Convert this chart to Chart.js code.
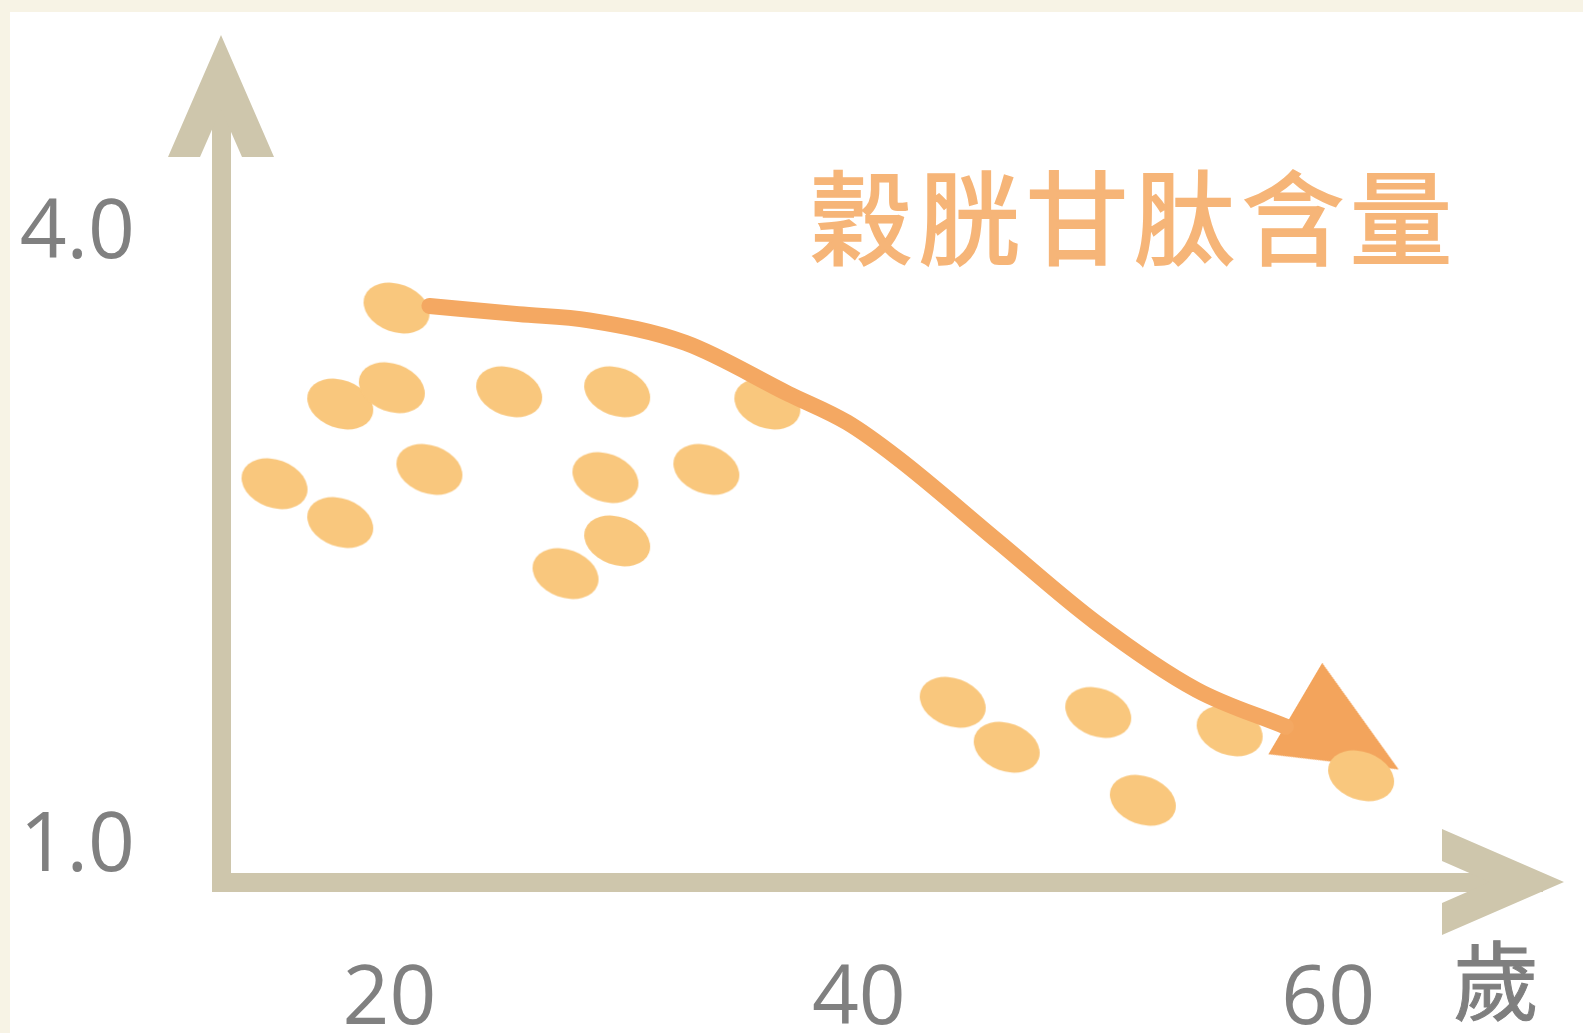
<!DOCTYPE html>
<html>
<head>
<meta charset="utf-8">
<script src="https://cdn.jsdelivr.net/npm/chart.js@4/dist/chart.umd.min.js"></script>
<style>
  html, body { margin: 0; padding: 0; overflow: hidden; }
  body { width: 1583px; height: 1033px; background: #F7F3E5; position: relative; }
  .panel { position: absolute; left: 10px; top: 12px; width: 1573px; height: 1021px; background: #fff; }
  #chart { position: absolute; left: 0; top: 0; }
  .title {
    position: absolute; left: 810px; top: 162px; line-height: 1;
    font-family: "Noto Sans CJK TC", "Noto Sans CJK SC", sans-serif;
    font-size: 102px; letter-spacing: 6px; color: #F6B578; white-space: nowrap;
    -webkit-text-stroke: 2px #F6B578;
  }
  .unit {
    position: absolute; left: 1453px; top: 934px; line-height: 1;
    font-family: "Noto Sans CJK TC", "Noto Sans CJK SC", sans-serif;
    font-size: 86px; color: #7F7F7F;
    -webkit-text-stroke: 1px #7F7F7F;
  }
</style>
</head>
<body>
<div class="panel"></div>
<canvas id="chart" width="1583" height="1033"></canvas>
<div class="title">穀胱甘肽含量</div>
<div class="unit">歲</div>

<script>
// ---- data (age in years, glutathione level) ----
const AGES = [20.3, 17.9, 20.1, 25.1, 29.7, 36.1, 15.1, 17.9, 21.7, 29.2, 33.5, 29.7, 27.5,
              44.0, 46.3, 50.2, 52.1, 55.8, 61.4];
const LEVELS = [3.61, 3.14, 3.22, 3.20, 3.20, 3.14, 2.75, 2.56, 2.82, 2.78, 2.82, 2.47, 2.31,
                1.68, 1.46, 1.63, 1.20, 1.54, 1.32];

// trend curve
const TREND_AGES = [21.7, 25.5, 28.5, 32.6, 37.0, 39.5, 41.6, 45.9, 50.1, 54.4, 58.2];
const TREND_LEVELS = [3.62, 3.58, 3.55, 3.44, 3.19, 3.05, 2.88, 2.47, 2.07, 1.74, 1.56];
const ARROW_AT = [60.8, 1.50];

const X_TICKS = [20, 40, 60];
const Y_TICKS = [1.0, 4.0];

const AXIS_COLOR = '#CEC6AC';
const DOT_COLOR = '#F9C77D';
const TREND_COLOR = '#F4A862';
const LABEL_COLOR = '#808080';

/* ---- point sprites ---- */
function makeDot() {
  const c = document.createElement('canvas');
  c.width = 80; c.height = 66;
  const g = c.getContext('2d');
  g.fillStyle = DOT_COLOR;
  g.beginPath();
  g.ellipse(40, 33, 34, 24, 0.35, 0, Math.PI * 2);
  g.fill();
  return c;
}

function makeArrowHead() {
  // points to the right, centred; rotated by the dataset
  const c = document.createElement('canvas');
  c.width = 130; c.height = 130;
  const g = c.getContext('2d');
  g.fillStyle = '#F3A45C';
  g.beginPath();
  g.moveTo(125, 65);
  g.lineTo(5, 12);
  g.lineTo(5, 118);
  g.closePath();
  g.fill();
  return c;
}

/* ---- axis arrowheads ---- */
const axisArrows = {
  id: 'axisArrows',
  beforeDatasetsDraw(chart) {
    const { ctx, chartArea: a } = chart;
    ctx.save();
    ctx.fillStyle = AXIS_COLOR;
    // y axis (tip above the shaft)
    const tx = a.left, ty = a.top - 32;
    ctx.beginPath();
    ctx.moveTo(tx, ty);
    ctx.lineTo(tx + 53, ty + 122);
    ctx.lineTo(tx + 21, ty + 122);
    ctx.lineTo(tx, ty + 74);
    ctx.lineTo(tx - 21, ty + 122);
    ctx.lineTo(tx - 53, ty + 122);
    ctx.closePath();
    ctx.fill();
    // x axis
    const rx = a.right + 22, ry = a.bottom;
    ctx.beginPath();
    ctx.moveTo(rx, ry);
    ctx.lineTo(rx - 122, ry - 53);
    ctx.lineTo(rx - 122, ry - 21);
    ctx.lineTo(rx - 74, ry);
    ctx.lineTo(rx - 122, ry + 21);
    ctx.lineTo(rx - 122, ry + 53);
    ctx.closePath();
    ctx.fill();
    ctx.restore();
  },
};

function noPad(s) {
  s.paddingTop = 0; s.paddingBottom = 0; s.paddingLeft = 0; s.paddingRight = 0;
}

const dot = makeDot();
const head = makeArrowHead();

new Chart(document.getElementById('chart'), {
  type: 'scatter',
  data: {
    datasets: [
      {
        type: 'line',
        data: TREND_AGES.map((x, i) => ({ x, y: TREND_LEVELS[i] })),
        borderColor: TREND_COLOR,
        borderWidth: 16,
        borderCapStyle: 'round',
        cubicInterpolationMode: 'monotone',
        pointRadius: 0,
        order: 1,
      },
      {
        data: AGES.map((x, i) => ({ x, y: LEVELS[i] })),
        pointStyle: dot,
        pointRadius: 30,
        order: 2,
      },
      {
        data: [{ x: ARROW_AT[0], y: ARROW_AT[1] }],
        pointStyle: head,
        pointRadius: 40,
        rotation: 30.5,
        order: 3,
      },
    ],
  },
  options: {
    responsive: false,
    animation: false,
    events: [],
    layout: { padding: { top: 67, right: 35, left: 0, bottom: 0 } },
    plugins: { legend: { display: false }, tooltip: { enabled: false } },
    scales: {
      x: {
        type: 'linear',
        min: 12.82,
        max: 69.11,
        afterFit: (s) => { s.height = 151; noPad(s); },
        afterBuildTicks: (s) => { s.ticks = X_TICKS.map((v) => ({ value: v })); },
        grid: { display: true, color: 'rgba(0,0,0,0)', drawTicks: false },
        border: { display: true, color: AXIS_COLOR, width: 19 },
        ticks: {
          padding: 69,
          color: LABEL_COLOR,
          font: { family: 'Open Sans', size: 82 },
          maxRotation: 0,
          callback: (v) => String(v),
        },
      },
      y: {
        type: 'linear',
        min: 0.8,
        max: 4.79,
        afterFit: (s) => { s.width = 221; noPad(s); },
        afterBuildTicks: (s) => { s.ticks = Y_TICKS.map((v) => ({ value: v })); },
        grid: { display: true, color: 'rgba(0,0,0,0)', drawTicks: false },
        border: { display: true, color: AXIS_COLOR, width: 19 },
        ticks: {
          padding: 86,
          labelOffset: 6,
          color: LABEL_COLOR,
          font: { family: 'Open Sans', size: 82 },
          callback: (v) => v.toFixed(1),
        },
      },
    },
  },
  plugins: [axisArrows],
});
</script>
</body>
</html>
